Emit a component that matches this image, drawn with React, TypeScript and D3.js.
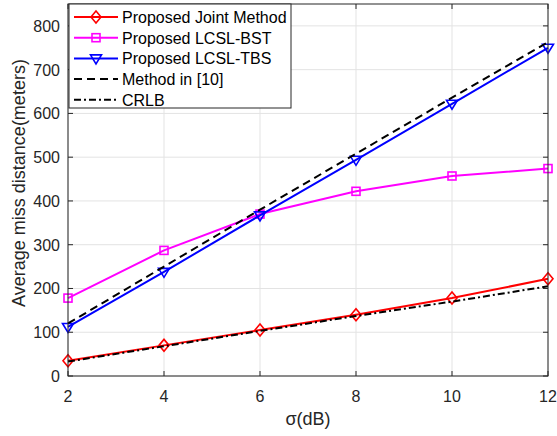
import React from "react";
import * as d3 from "d3";

const sigma = [2, 4, 6, 8, 10, 12];
const jointMethod = [35, 70, 105, 140, 178, 222];
const lcslBST = [178, 287, 370, 422, 457, 474];
const lcslTBS = [112, 238, 367, 494, 622, 750];
const methodIn10 = [120, 250, 380, 508, 636, 763];
const crlb = [33, 68, 103, 137, 170, 205];
const xTicks = [2, 4, 6, 8, 10, 12];
const yTicks = [0, 100, 200, 300, 400, 500, 600, 700, 800];

const W = 557, H = 436;
const L = 68, R = 548, T = 4, B = 376;

export default function App() {
  const x = d3.scaleLinear().domain([2, 12]).range([L, R]);
  const y = d3.scaleLinear().domain([0, 850]).range([B, T]);
  const line = (vals: number[]) =>
    d3.line<number>().x((_, i) => x(sigma[i])).y((d) => y(d))(vals) || "";
  const font = "Liberation Sans, Arial, sans-serif";

  const diamond = (cx: number, cy: number, c: string, k: string) => (
    <path key={k} d={`M${cx},${cy - 6}L${cx + 5},${cy}L${cx},${cy + 6}L${cx - 5},${cy}Z`} fill="none" stroke={c} strokeWidth={1.6} />
  );
  const square = (cx: number, cy: number, c: string, k: string) => (
    <rect key={k} x={cx - 4} y={cy - 4} width={8} height={8} fill="none" stroke={c} strokeWidth={1.6} />
  );
  const tri = (cx: number, cy: number, c: string, k: string) => (
    <path key={k} d={`M${cx - 5.5},${cy - 3.5}L${cx + 5.5},${cy - 3.5}L${cx},${cy + 5.5}Z`} fill="none" stroke={c} strokeWidth={1.6} />
  );

  const series = [
    { name: "Proposed Joint Method", vals: jointMethod, color: "#ff0000", dash: "", marker: diamond, w: 2 },
    { name: "Proposed LCSL-BST", vals: lcslBST, color: "#ff00ff", dash: "", marker: square, w: 2 },
    { name: "Proposed LCSL-TBS", vals: lcslTBS, color: "#0000ff", dash: "", marker: tri, w: 2 },
    { name: "Method in [10]", vals: methodIn10, color: "#000000", dash: "8,5", marker: null, w: 2 },
    { name: "CRLB", vals: crlb, color: "#000000", dash: "7,3,2,3", marker: null, w: 2 },
  ];

  const legX = L + 1, legY = T, legW = 222, legH = 104;

  return (
    <svg width={W} height={H} style={{ position: "absolute", left: 0, top: 0 }} fontFamily={font}>
      <rect x={0} y={0} width={W} height={H} fill="#fff" />
      <rect x={L} y={T} width={R - L} height={B - T} fill="#fff" />
      {xTicks.map((t) => (
        <line key={"gx" + t} x1={x(t)} x2={x(t)} y1={T} y2={B} stroke="#e3e3e3" strokeWidth={1} />
      ))}
      {yTicks.map((t) => (
        <line key={"gy" + t} x1={L} x2={R} y1={y(t)} y2={y(t)} stroke="#e3e3e3" strokeWidth={1} />
      ))}
      {series.map((s) => (
        <g key={s.name}>
          <path d={line(s.vals)} fill="none" stroke={s.color} strokeWidth={s.w} strokeDasharray={s.dash} />
          {s.marker && s.vals.map((v, i) => s.marker!(x(sigma[i]), y(v), s.color, s.name + i))}
        </g>
      ))}
      <rect x={L} y={T} width={R - L} height={B - T} fill="none" stroke="#262626" strokeWidth={1} />
      {xTicks.map((t) => (
        <g key={"tx" + t}>
          <line x1={x(t)} x2={x(t)} y1={B} y2={B - 5} stroke="#262626" />
          <line x1={x(t)} x2={x(t)} y1={T} y2={T + 5} stroke="#262626" />
          <text x={x(t)} y={B + 26} textAnchor="middle" fontSize={16} fill="#262626">{t}</text>
        </g>
      ))}
      {yTicks.map((t) => (
        <g key={"ty" + t}>
          <line x1={L} x2={L + 5} y1={y(t)} y2={y(t)} stroke="#262626" />
          <line x1={R} x2={R - 5} y1={y(t)} y2={y(t)} stroke="#262626" />
          <text x={L - 8} y={y(t) + 6} textAnchor="end" fontSize={16} fill="#262626">{t}</text>
        </g>
      ))}
      <text x={(L + R) / 2} y={425} textAnchor="middle" fontSize={18} fill="#262626">σ(dB)</text>
      <text transform={`translate(25,${183}) rotate(-90)`} textAnchor="middle" fontSize={18} fill="#262626">
        Average miss distance(meters)
      </text>
      <rect x={legX} y={legY} width={legW} height={legH} fill="#fff" stroke="#262626" strokeWidth={1} />
      {series.map((s, i) => {
        const yy = legY + 13 + i * 20.7;
        return (
          <g key={"leg" + s.name}>
            <line x1={legX + 5} x2={legX + 49} y1={yy} y2={yy} stroke={s.color} strokeWidth={2} strokeDasharray={s.dash} />
            {s.marker && s.marker(legX + 27, yy, s.color, "lm" + i)}
            <text x={legX + 53} y={yy + 6} fontSize={16} fill="#000">{s.name}</text>
          </g>
        );
      })}
    </svg>
  );
}
